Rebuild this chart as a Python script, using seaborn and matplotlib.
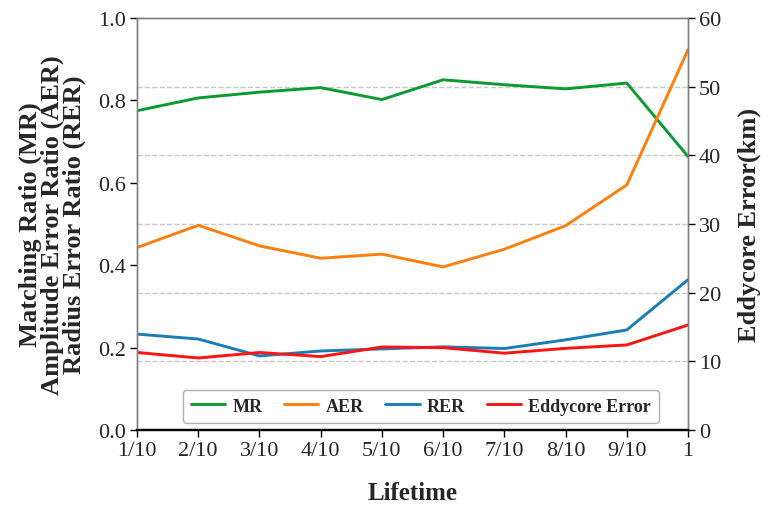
import matplotlib
matplotlib.use("Agg")
import matplotlib.pyplot as plt
import seaborn as sns
import pandas as pd

lifetime = ['1/10', '2/10', '3/10', '4/10', '5/10', '6/10', '7/10', '8/10', '9/10', '1']
mr = [0.775, 0.806, 0.820, 0.831, 0.802, 0.850, 0.838, 0.828, 0.842, 0.664]
aer = [0.443, 0.497, 0.447, 0.417, 0.427, 0.396, 0.439, 0.496, 0.595, 0.923]
rer = [0.233, 0.221, 0.180, 0.192, 0.197, 0.202, 0.198, 0.219, 0.243, 0.365]
eddy = [11.3, 10.5, 11.3, 10.7, 12.1, 12.0, 11.2, 11.9, 12.4, 15.3]
left_ticks = [0.0, 0.2, 0.4, 0.6, 0.8, 1.0]
right_ticks = [0, 10, 20, 30, 40, 50, 60]

sns.set_theme(style='white')
plt.rcParams['font.family'] = ['Liberation Serif', 'DejaVu Serif']

df = pd.DataFrame({'Lifetime': lifetime, 'MR': mr, 'AER': aer, 'RER': rer, 'Eddy': eddy})

fig = plt.figure(figsize=(7.72, 5.06), dpi=100)
ax = fig.add_axes([0.1775, 0.148, 0.7137, 0.8145])
ax2 = ax.twinx()

c_mr, c_aer, c_rer, c_ed = '#0a9a30', '#ff7f0e', '#1a7db5', '#ff1414'
lw = 2.1
sns.lineplot(data=df, x='Lifetime', y='MR', ax=ax, color=c_mr, lw=lw, sort=False, label='MR', legend=False)
sns.lineplot(data=df, x='Lifetime', y='AER', ax=ax, color=c_aer, lw=lw, sort=False, label='AER', legend=False)
sns.lineplot(data=df, x='Lifetime', y='RER', ax=ax, color=c_rer, lw=lw, sort=False, label='RER', legend=False)
sns.lineplot(data=df, x='Lifetime', y='Eddy', ax=ax2, color=c_ed, lw=lw, sort=False, label='Eddycore Error', legend=False)

ax.set_xlim(0, len(lifetime) - 1)
ax.set_ylim(0, 1)
ax2.set_ylim(0, 60)
ax.set_yticks(left_ticks)
ax.set_yticklabels([f'{t:.1f}' for t in left_ticks])
ax2.set_yticks(right_ticks)

# dashed grid at right-axis ticks, drawn beneath the lines
ax.set_yticks([t / 60 for t in right_ticks[1:-1]], minor=True)
ax.grid(which='minor', axis='y', linestyle='--', color='#c8c8c8', lw=1.0)
ax.tick_params(axis='y', which='minor', length=0)
ax.set_axisbelow(True)

for a in (ax, ax2):
    for s in a.spines.values():
        s.set_color('#7f7f7f')
        s.set_linewidth(1.0)
    a.spines['bottom'].set_color('black')
    a.spines['bottom'].set_linewidth(1.6)

ax.tick_params(axis='both', which='major', direction='out', length=5, width=1.0, color='black',
               labelsize=16, pad=3, bottom=True, left=True)
ax2.tick_params(axis='y', which='major', direction='out', length=5, width=1.0, color='black',
                labelsize=16, pad=3, right=True)

ax.set_xlabel('Lifetime', fontsize=18, fontweight='bold', labelpad=15)
ax.set_ylabel('Matching Ratio (MR)\nAmplitude Error Ratio (AER)\nRadius Error Ratio (RER)',
              fontsize=19, fontweight='bold', linespacing=0.9, labelpad=9)
ax2.set_ylabel('Eddycore Error(km)', fontsize=19, fontweight='bold', labelpad=12)

h1, l1 = ax.get_legend_handles_labels()
h2, l2 = ax2.get_legend_handles_labels()
leg = ax2.legend(h1 + h2, l1 + l2, loc='center', bbox_to_anchor=(0.515, 0.058), ncol=4,
                 frameon=True, fancybox=True, edgecolor='#b0b0b0', framealpha=1,
                 prop={'weight': 'bold', 'size': 13}, handlelength=1.9, columnspacing=1.2,
                 handletextpad=0.4, borderpad=0.45)

fig.savefig('out.png', dpi=100)
